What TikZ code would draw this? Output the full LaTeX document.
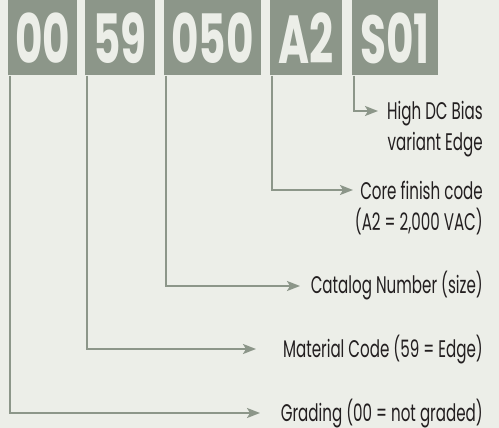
\documentclass[tikz,border=0pt]{standalone}
\usepackage{fontspec}
\setmainfont{Poppins}
\newfontfamily\labelfont{Poppins}[FakeStretch=0.63]
\newfontfamily\codefont{Poppins}[FakeStretch=0.62]
\usetikzlibrary{arrows.meta,positioning,calc}
\definecolor{bgcol}{HTML}{ECEEE8}
\definecolor{sage}{HTML}{8C9689}
\definecolor{ink}{HTML}{231F20}

\begin{document}
\begin{tikzpicture}[x=1pt, y=-1pt, >={Stealth[length=13pt, width=10pt, inset=3pt]}]
    \tikzset{
        codebox/.style={fill=sage, text=bgcol, inner sep=0pt, minimum height=75.5pt, text depth=0pt, font=\codefont\bfseries\fontsize{68}{68}\selectfont},
        desc/.style={text=ink, inner sep=0pt, align=right, anchor=base east, font=\labelfont\fontsize{24}{31}\selectfont},
        line/.style={draw=sage, line width=2pt, ->}
    }
    \fill [bgcol] (0,0) rectangle (499,428);
    \useasboundingbox (0,0) rectangle (499,428);

    \node [codebox, minimum width=69pt] (gradebox) at (42.5,37.75) {00};
    \node [codebox, minimum width=70pt] (matbox) at (120,37.75) {59};
    \node [codebox, minimum width=97pt] (sizebox) at (212.5,37.75) {050};
    \node [codebox, minimum width=72pt] (finishbox) at (306,37.75) {A2};
    \node [codebox, minimum width=86pt] (variantbox) at (395,37.75) {S01};

    % base anchor sits on the last line
    \node [desc] (variant) at (483,150) {High DC Bias\\variant Edge};
    \node [desc] (finish) at (483,230) {Core finish code\\(A2 = 2,000 VAC)};
    \node [desc] (size) at (483,294) {Catalog Number (size)};
    \node [desc] (material) at (483,357) {Material Code (59 = Edge)};
    \node [desc] (grading) at (483,421) {Grading (00 = not graded)};

    \coordinate (varianttip) at (378,111);
    \coordinate (finishtip) at (353,190);
    \coordinate (sizetip) at (300,286);
    \coordinate (materialtip) at (256,349);
    \coordinate (gradingtip) at (260,413);

    \path [line] ([xshift=2pt]variantbox.south west) |- (varianttip);
    \path [line] ([xshift=2pt]finishbox.south west) |- (finishtip);
    \path [line] ([xshift=2pt]sizebox.south west) |- (sizetip);
    \path [line] ([xshift=2pt]matbox.south west) |- (materialtip);
    \path [line] ([xshift=2pt]gradebox.south west) |- (gradingtip);
\end{tikzpicture}
\end{document}
